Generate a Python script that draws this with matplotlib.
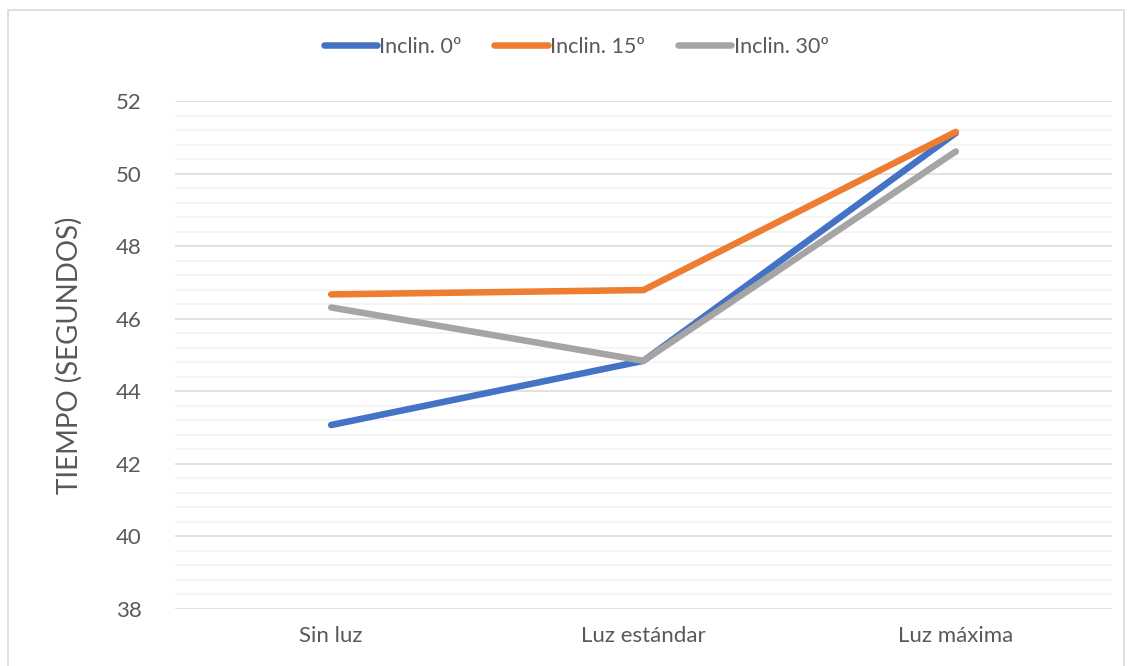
import numpy as np
import matplotlib.pyplot as plt
from matplotlib.patches import Rectangle
from matplotlib.ticker import MultipleLocator

plt.rcParams['font.family'] = ['Lato', 'DejaVu Sans']

categorias = ['Sin luz', 'Luz estándar', 'Luz máxima']
inclin_0 = [43.07, 44.84, 51.12]
inclin_15 = [46.67, 46.79, 51.15]
inclin_30 = [46.31, 44.84, 50.61]

series = [
    ('Inclin. 0º', inclin_0, '#4472C4'),
    ('Inclin. 15º', inclin_15, '#ED7D31'),
    ('Inclin. 30º', inclin_30, '#A5A5A5'),
]

W, H = 1133, 666
fig = plt.figure(figsize=(W / 100, H / 100), dpi=100)
ax = fig.add_axes([175 / W, 1 - 609 / H, (1112 - 175) / W, (609 - 101) / H])

x = np.arange(len(categorias))
for nombre, valores, color in series:
    ax.plot(x, valores, color=color, lw=4.7, solid_capstyle='round',
            solid_joinstyle='miter', label=nombre)

ax.set_xlim(-0.5, len(categorias) - 0.5)
ax.set_ylim(38, 52)
ax.yaxis.set_major_locator(MultipleLocator(2))
ax.yaxis.set_minor_locator(MultipleLocator(0.4))
ax.set_xticks(x)
ax.set_xticklabels(categorias)

ax.grid(which='major', axis='y', color='#D9D9D9', lw=1.1)
ax.grid(which='minor', axis='y', color='#F2F2F2', lw=1.1)
ax.set_axisbelow(True)
for s in ax.spines.values():
    s.set_visible(False)
ax.tick_params(axis='both', which='both', length=0, colors='#595959', labelsize=16)
ax.tick_params(axis='x', pad=12)
ax.tick_params(axis='y', pad=24)

ax.set_ylabel('TIEMPO (SEGUNDOS)', fontsize=20, color='#595959', labelpad=24)

leg = fig.legend(loc='center', bbox_to_anchor=(576 / W, 1 - 47 / H), ncol=3,
                 frameon=False, fontsize=15.5, handlelength=2.5, handletextpad=0.1,
                 columnspacing=1.5, labelcolor='#595959')

# chart border
fig.patches.append(Rectangle((8 / W, -0.05), (1124 - 8) / W, 1 - 10 / H + 0.05,
                             transform=fig.transFigure, fill=False,
                             edgecolor='#D9D9D9', lw=1.2))

fig.savefig('out.png', dpi=100, facecolor='white')
